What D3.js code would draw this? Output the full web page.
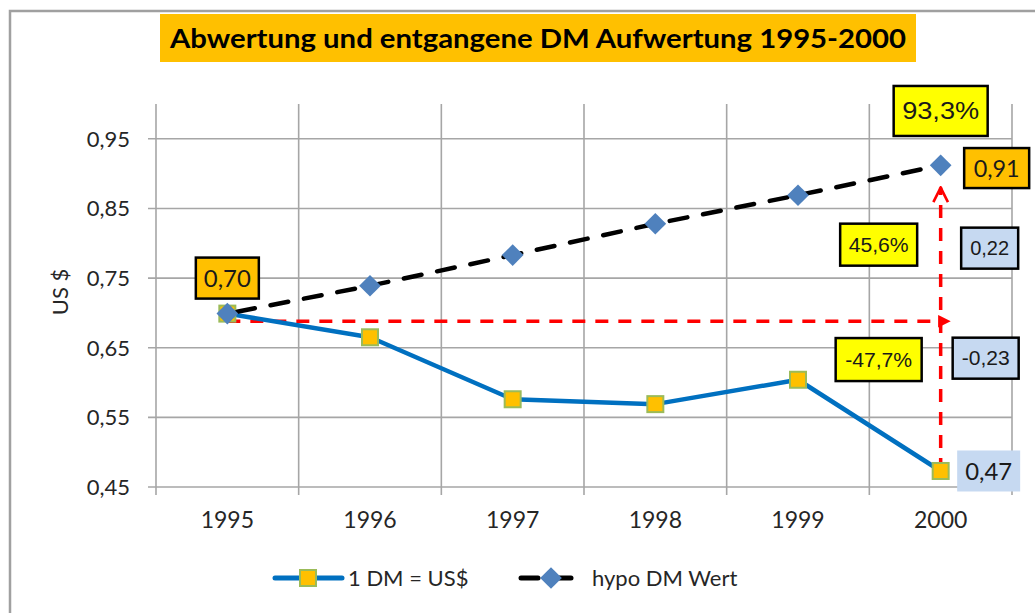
<!DOCTYPE html>
<html lang="de">
<head>
<meta charset="UTF-8">
<title>Abwertung und entgangene DM Aufwertung 1995-2000</title>
<style>
  body { margin: 0; background: #fff; }
  svg { display: block; }
</style>
</head>
<body>
<svg width="1035" height="613"></svg>
<script src="https://d3js.org/d3.v7.min.js"></script>
<script>

// Data

const years = ["1995", "1996", "1997", "1998", "1999", "2000"];
const dmUsd = [0.699, 0.665, 0.576, 0.569, 0.604, 0.473];
const hypoDm = [0.699, 0.739, 0.783, 0.828, 0.869, 0.912];
const yTicks = [0.45, 0.55, 0.65, 0.75, 0.85, 0.95];
const seriesNames = ["1 DM = US$", "hypo DM Wert"];
const titleText = "Abwertung und entgangene DM Aufwertung 1995-2000";
const yTitle = "US $";

// red arrows: [fromYear, fromValue, toYear, toValue]
const arrowFlat = ["1995", 0.688, "2000", 0.688];
const arrowUp = ["2000", 0.473, "2000", 0.880];

// annotation boxes: text, year, value (centre), kind
const boxTexts = ["0,70", "93,3%", "0,91", "45,6%", "0,22", "-47,7%", "-0,23", "0,47"];
const boxYears = ["1995", "2000", "2000", "2000", "2000", "2000", "2000", "2000"];
const boxValues = [0.750, 0.990, 0.908, 0.798, 0.793, 0.633, 0.635, 0.473];
const boxKinds = ["orange", "yellow", "orange", "yellow", "blue", "yellow", "blue", "plain"];

// Layout (pixel offsets / sizes, not data)

const boxDx = [0, 0, 56, -62, 49, -62, 45, 48];
const boxW = [63, 94, 65, 77, 57, 86, 66, 63];
const boxH = [41, 50, 40, 42, 41, 43, 41, 41];
const boxFont = [
  ["Lato", 24, 47], ["Liberation Sans", 23, 77], ["Lato", 24, 46],
  ["Liberation Sans", 20, 60], ["Liberation Sans", 20, 39],
  ["Liberation Sans", 20, 67], ["Liberation Sans", 20, 48], ["Lato", 24, 47]
];
const KIND = {
  orange: { fill: "#ffc000", stroke: "#000" },
  yellow: { fill: "#ffff00", stroke: "#000" },
  blue:   { fill: "#c6d9f1", stroke: "#000" },
  plain:  { fill: "#c6d9f1", stroke: "none" }
};

const plot = { left: 156, right: 1012, top: 104, bottom: 487 };

const fmt = d3.formatLocale({ decimal: ",", thousands: ".", grouping: [3], currency: ["", " $"] }).format(".2f");

// Scales

const x = d3.scaleBand().domain(years).range([plot.left, plot.right]).padding(0);
const cx = d => x(d) + x.bandwidth() / 2;
const y = d3.scaleLinear().domain([0.45, 1.0]).range([plot.bottom, plot.top]);

// SVG

const svg = d3.select("svg");

const defs = svg.append("defs");
defs.append("marker")
  .attr("id", "tri")
  .attr("viewBox", "0 0 10 10")
  .attr("refX", 2).attr("refY", 5)
  .attr("markerWidth", 3.6).attr("markerHeight", 3.6)
  .attr("markerUnits", "strokeWidth")
  .attr("orient", "auto")
  .append("path").attr("d", "M0,0L10,5L0,10Z").attr("fill", "#ff0000");
defs.append("marker")
  .attr("id", "chev")
  .attr("viewBox", "0 0 12 12")
  .attr("refX", 11).attr("refY", 6)
  .attr("markerWidth", 5).attr("markerHeight", 6.5)
  .attr("markerUnits", "strokeWidth")
  .attr("orient", "auto")
  .append("path").attr("d", "M1,1L11,6L1,11")
    .attr("fill", "none").attr("stroke", "#ff0000").attr("stroke-width", 1.8);

// chart border
svg.append("rect")
  .attr("x", 10).attr("y", 11).attr("width", 1040).attr("height", 620)
  .attr("fill", "none").attr("stroke", "#a0a0a0").attr("stroke-width", 2.5);

// title
svg.append("rect")
  .attr("x", 160).attr("y", 14).attr("width", 756).attr("height", 48)
  .attr("fill", "#ffc000");
svg.append("text")
  .attr("x", 538).attr("y", 48)
  .attr("text-anchor", "middle")
  .attr("font-family", "Lato, 'Open Sans', sans-serif")
  .attr("font-weight", "bold").attr("font-size", 26)
  .attr("textLength", 736).attr("lengthAdjust", "spacingAndGlyphs")
  .attr("fill", "#000")
  .text(titleText);

// gridlines
const grid = svg.append("g").attr("stroke", "#a6a6a6").attr("stroke-width", 1.6);
grid.selectAll("line.h")
  .data(yTicks)
  .join("line")
    .attr("class", "h")
    .attr("x1", plot.left - 8).attr("x2", plot.right)
    .attr("y1", d => y(d)).attr("y2", d => y(d));
const edges = years.map(d => x(d)).concat([plot.right]);
grid.selectAll("line.v")
  .data(edges)
  .join("line")
    .attr("class", "v")
    .attr("x1", d => d).attr("x2", d => d)
    .attr("y1", plot.top).attr("y2", plot.bottom + 8);

// y axis labels
svg.append("g")
  .selectAll("text")
  .data(yTicks)
  .join("text")
    .attr("x", 130).attr("y", d => y(d))
    .attr("dy", "0.36em")
    .attr("text-anchor", "end")
    .attr("font-family", "Lato, sans-serif").attr("font-size", 22)
    .attr("fill", "#262626")
    .text(d => fmt(d));

svg.append("text")
  .attr("transform", `translate(68,${y(0.73)}) rotate(-90)`)
  .attr("text-anchor", "middle")
  .attr("font-family", "Lato, sans-serif").attr("font-size", 22)
  .attr("fill", "#262626")
  .text(yTitle);

// x axis labels
svg.append("g")
  .selectAll("text")
  .data(years)
  .join("text")
    .attr("x", d => cx(d)).attr("y", 528)
    .attr("text-anchor", "middle")
    .attr("font-family", "Lato, sans-serif").attr("font-size", 23)
    .attr("fill", "#262626")
    .text(d => d);

// red arrows
const red = svg.append("g")
  .attr("stroke", "#ff0000").attr("stroke-width", 3.5)
  .attr("stroke-dasharray", "13,10").attr("fill", "none");
red.append("line")
  .attr("x1", cx(arrowFlat[0])).attr("y1", y(arrowFlat[1]))
  .attr("x2", cx(arrowFlat[2])).attr("y2", y(arrowFlat[3]))
  .attr("marker-end", "url(#tri)");
red.append("line")
  .attr("x1", cx(arrowUp[0])).attr("y1", y(arrowUp[1]))
  .attr("x2", cx(arrowUp[2])).attr("y2", y(arrowUp[3]))
  .attr("marker-end", "url(#chev)");

// series 1: 1 DM = US$
const pts1 = years.map((d, i) => [cx(d), y(dmUsd[i])]);
svg.append("path")
  .attr("d", d3.line()(pts1))
  .attr("fill", "none").attr("stroke", "#0070c0").attr("stroke-width", 4.5)
  .attr("stroke-linejoin", "round");
svg.append("g")
  .selectAll("rect")
  .data(pts1)
  .join("rect")
    .attr("x", d => d[0] - 8).attr("y", d => d[1] - 8)
    .attr("width", 16).attr("height", 16)
    .attr("fill", "#ffc000").attr("stroke", "#9bbb59").attr("stroke-width", 2);

// series 2: hypo DM Wert
const pts2 = years.map((d, i) => [cx(d), y(hypoDm[i])]);
svg.append("path")
  .attr("d", d3.line()(pts2))
  .attr("fill", "none").attr("stroke", "#000").attr("stroke-width", 4.5)
  .attr("stroke-dasharray", "18,16").attr("stroke-dashoffset", -10)
  .attr("stroke-linecap", "round");
const diamond = d3.symbol().type(d3.symbolDiamond2).size(300);
svg.append("g")
  .selectAll("path")
  .data(pts2)
  .join("path")
    .attr("transform", d => `translate(${d[0]},${d[1]})`)
    .attr("d", diamond)
    .attr("fill", "#4f81bd");

// annotation boxes
const boxes = svg.append("g")
  .selectAll("g")
  .data(boxTexts)
  .join("g")
    .attr("transform", (d, i) => `translate(${cx(boxYears[i]) + boxDx[i]},${y(boxValues[i])})`);
boxes.append("rect")
  .attr("x", (d, i) => -boxW[i] / 2).attr("y", (d, i) => -boxH[i] / 2)
  .attr("width", (d, i) => boxW[i]).attr("height", (d, i) => boxH[i])
  .attr("fill", (d, i) => KIND[boxKinds[i]].fill)
  .attr("stroke", (d, i) => KIND[boxKinds[i]].stroke)
  .attr("stroke-width", 2.5);
boxes.append("text")
  .attr("text-anchor", "middle").attr("dy", "0.36em")
  .attr("font-family", (d, i) => boxFont[i][0] + ", sans-serif")
  .attr("font-size", (d, i) => boxFont[i][1])
  .attr("textLength", (d, i) => boxFont[i][2])
  .attr("lengthAdjust", "spacingAndGlyphs")
  .attr("fill", "#1a1a1a")
  .text(d => d);

// legend
const legY = 578;
const leg = svg.append("g").attr("font-family", "Lato, sans-serif").attr("font-size", 22).attr("fill", "#262626");
leg.append("line")
  .attr("x1", 275).attr("x2", 342).attr("y1", legY).attr("y2", legY)
  .attr("stroke", "#0070c0").attr("stroke-width", 5).attr("stroke-linecap", "round");
leg.append("rect")
  .attr("x", 300).attr("y", legY - 8).attr("width", 16).attr("height", 16)
  .attr("fill", "#ffc000").attr("stroke", "#9bbb59").attr("stroke-width", 2);
leg.append("text").attr("x", 348).attr("y", legY).attr("dy", "0.36em").text(seriesNames[0]);
leg.append("line")
  .attr("x1", 521).attr("x2", 538).attr("y1", legY).attr("y2", legY)
  .attr("stroke", "#000").attr("stroke-width", 5).attr("stroke-linecap", "round");
leg.append("line")
  .attr("x1", 558).attr("x2", 571).attr("y1", legY).attr("y2", legY)
  .attr("stroke", "#000").attr("stroke-width", 5).attr("stroke-linecap", "round");
leg.append("path")
  .attr("transform", `translate(551,${legY})`)
  .attr("d", diamond)
  .attr("fill", "#4f81bd");
leg.append("text").attr("x", 592).attr("y", legY).attr("dy", "0.36em").text(seriesNames[1]);

</script>
</body>
</html>
